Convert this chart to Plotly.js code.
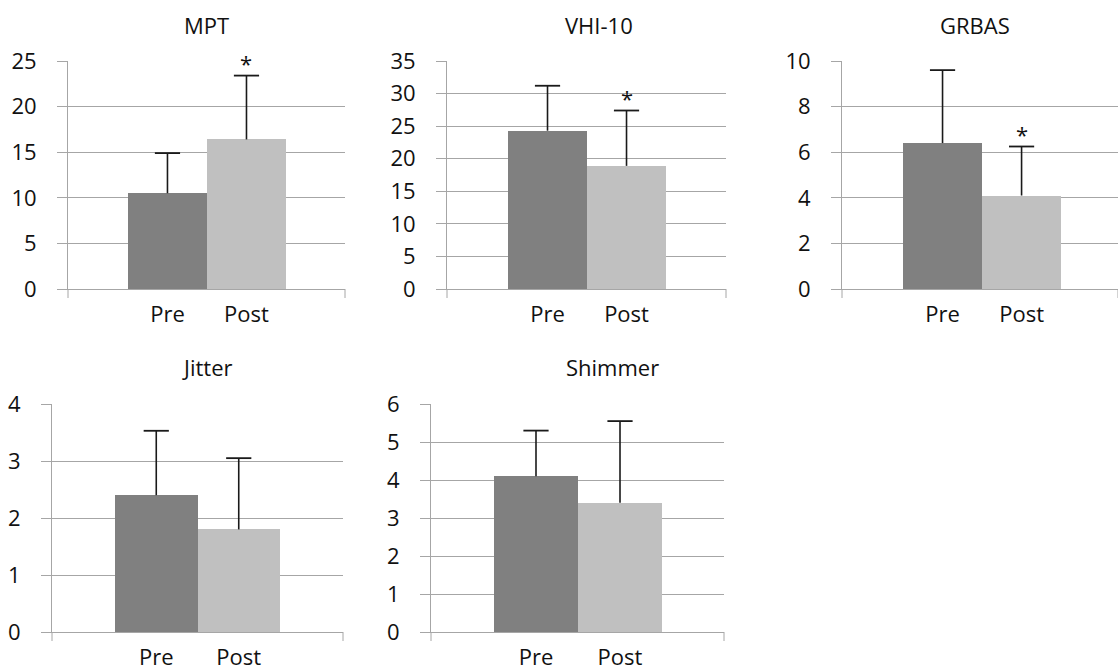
<!DOCTYPE html>
<html>
<head>
<meta charset="utf-8">
<script src="https://cdn.plot.ly/plotly-3.0.1.min.js"></script>
<style>html,body{margin:0;padding:0;background:#fff;}#chart{width:1118px;height:670px;}</style>
</head>
<body>
<div id="chart"></div>
<script>
// ---- data ----
const categories = ['Pre', 'Post'];
const panelTitles = ['MPT', 'VHI-10', 'GRBAS', 'Jitter', 'Shimmer'];
const mptMean = [10.5, 16.4];
const mptSD = [4.4, 7.0];
const vhiMean = [24.3, 18.9];
const vhiSD = [6.9, 8.5];
const grbasMean = [6.4, 4.1];
const grbasSD = [3.2, 2.15];
const jitterMean = [2.4, 1.8];
const jitterSD = [1.13, 1.25];
const shimmerMean = [4.1, 3.4];
const shimmerSD = [1.2, 2.15];
const significant = [true, true, true, false, false]; // '*' above Post
const yMax = [25, 35, 10, 4, 6];
const yStep = [5, 5, 2, 1, 1];

const means = [mptMean, vhiMean, grbasMean, jitterMean, shimmerMean];
const sds = [mptSD, vhiSD, grbasSD, jitterSD, shimmerSD];

// ---- layout geometry (pixels) ----
const W = 1118, H = 670;
const px = [[68, 345], [447, 726], [842, 1118], [52, 343], [431, 724]];
const py = [[61, 289], [61, 289], [61, 289], [404, 632], [404, 632]];
const xr = [[-1.259, 2.247], [-1.272, 2.259], [-1.272, 2.22], [-1.264, 2.264], [-1.25, 2.238]];
const titlePos = [[206, 25], [599, 25], [975, 25], [207, 367], [612, 367]];

const FONT = 'Open Sans, Noto Sans, sans-serif';
const FS = 22;
const gridC = '#a6a6a6';
const colors = ['#808080', '#c0c0c0'];
const errC = '#1a1a1a';
const txtC = '#111111';

const data = [];
const layout = {
  width: W, height: H,
  margin: {l: 0, r: 0, t: 0, b: 0},
  paper_bgcolor: '#fff', plot_bgcolor: '#fff',
  showlegend: false,
  bargap: 0,
  font: {family: FONT, size: FS, color: txtC},
  annotations: [],
  shapes: []
};

for (let i = 0; i < 5; i++) {
  const sfx = i === 0 ? '' : String(i + 1);
  data.push({
    type: 'bar',
    x: categories,
    y: means[i],
    xaxis: 'x' + sfx,
    yaxis: 'y' + sfx,
    width: 1,
    marker: {color: colors, line: {width: 0}},
    hoverinfo: 'none'
  });
  // upper error bars (stem from mean to mean+SD, cap at top)
  const ex = [], ey = [];
  categories.forEach(function (c, k) {
    ex.push(c, c, null);
    ey.push(means[i][k], means[i][k] + sds[i][k], null);
  });
  data.push({
    type: 'scatter', mode: 'lines',
    x: ex, y: ey, xaxis: 'x' + sfx, yaxis: 'y' + sfx,
    line: {color: errC, width: 1.6}, connectgaps: false, hoverinfo: 'none'
  });
  data.push({
    type: 'scatter', mode: 'markers',
    x: categories, y: means[i].map(function (m, k) { return m + sds[i][k]; }),
    xaxis: 'x' + sfx, yaxis: 'y' + sfx,
    marker: {symbol: 'line-ew', size: 18, color: errC, line: {color: errC, width: 1.8}},
    hoverinfo: 'none'
  });
  layout['xaxis' + sfx] = {
    domain: [px[i][0] / W, px[i][1] / W],
    anchor: 'y' + sfx,
    range: xr[i],
    type: 'category',
    tickmode: 'array',
    tickvals: categories,
    ticktext: categories,
    ticks: 'outside', ticklen: 6, tickcolor: 'rgba(0,0,0,0)',
    showgrid: false, zeroline: false,
    showline: true, linecolor: gridC, linewidth: 1,
    tickfont: {family: FONT, size: FS, color: txtC},
    fixedrange: true
  };
  layout['yaxis' + sfx] = {
    domain: [1 - py[i][1] / H, 1 - py[i][0] / H],
    anchor: 'x' + sfx,
    range: [0, yMax[i]],
    tickmode: 'linear', tick0: 0, dtick: yStep[i],
    ticks: 'outside', ticklen: 10, tickcolor: gridC, tickwidth: 1,
    ticklabelstandoff: 16,
    showgrid: true, gridcolor: gridC, gridwidth: 1,
    zeroline: false,
    showline: true, linecolor: gridC, linewidth: 1,
    tickfont: {family: FONT, size: FS, color: txtC},
    fixedrange: true
  };
  // end tick marks on the category axis
  [0, 1].forEach(function (d) {
    layout.shapes.push({
      type: 'line', xref: 'x' + sfx + ' domain', yref: 'y' + sfx + ' domain',
      x0: d, x1: d, y0: 0, y1: -9 / (py[i][1] - py[i][0]),
      line: {color: gridC, width: 1}
    });
  });
  // panel title
  layout.annotations.push({
    text: panelTitles[i], xref: 'paper', yref: 'paper',
    x: titlePos[i][0] / W, y: 1 - titlePos[i][1] / H,
    xanchor: 'center', yanchor: 'middle', showarrow: false,
    font: {family: FONT, size: FS, color: txtC}
  });
  // significance star
  if (significant[i]) {
    layout.annotations.push({
      text: '*', xref: 'x' + sfx, yref: 'y' + sfx,
      x: categories[1], y: means[i][1] + sds[i][1],
      xanchor: 'center', yanchor: 'bottom', showarrow: false, yshift: -4,
      font: {family: FONT, size: FS, color: txtC}
    });
  }
}

Plotly.newPlot('chart', data, layout, {displayModeBar: false, staticPlot: true});
</script>
</body>
</html>
